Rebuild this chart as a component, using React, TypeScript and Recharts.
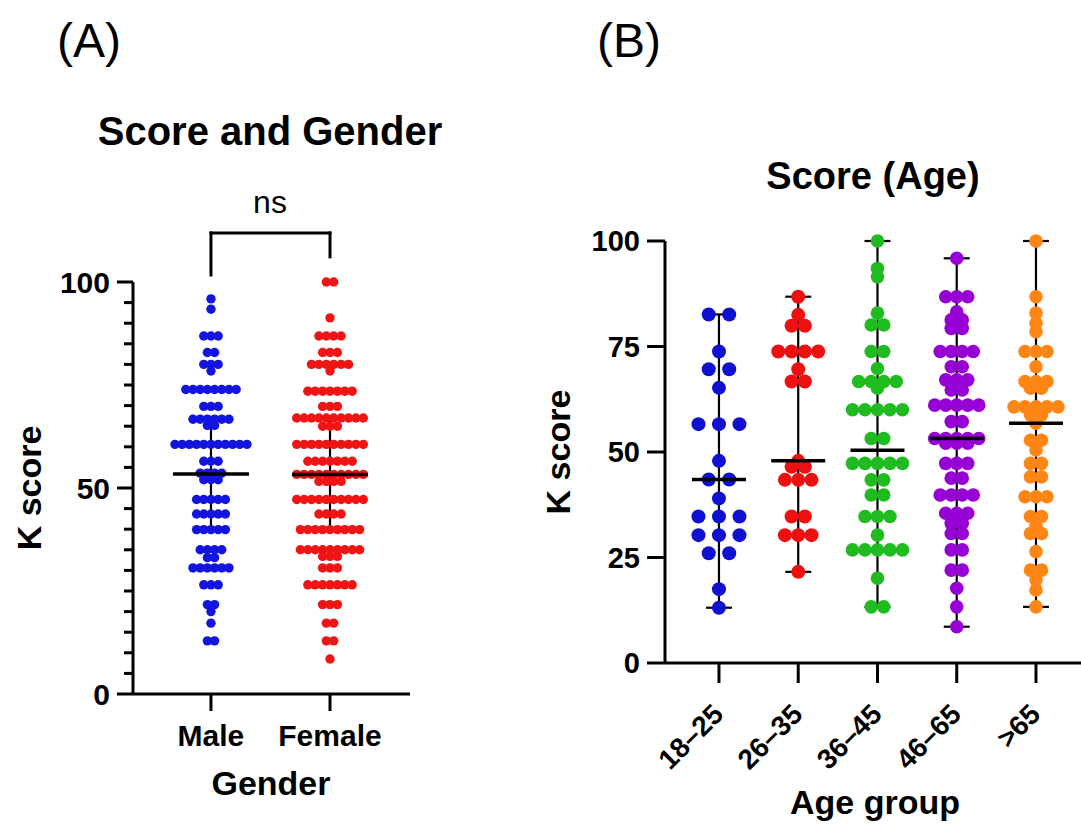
import React from 'react';
import { ScatterChart, Scatter, XAxis, YAxis, ErrorBar, ReferenceLine } from 'recharts';

// Panel A: [K score, number of people at that score]
const maleScores: [number, number][] = [
  [95.9, 1], [93.4, 1], [86.9, 3], [82.9, 2], [80.0, 3], [78.4, 1], [73.9, 8], [69.8, 3],
  [66.7, 6], [65.2, 2], [60.6, 11], [56.5, 3], [53.6, 4], [52.0, 3], [47.2, 5], [43.7, 5],
  [39.9, 5], [35.0, 4], [33.1, 2], [30.6, 6], [26.5, 3], [21.7, 2], [20.0, 1], [17.2, 1], [12.9, 2],
];
const femaleScores: [number, number][] = [
  [100, 2], [91.3, 1], [86.9, 4], [82.9, 3], [80.0, 6], [78.4, 1], [73.5, 7], [69.8, 3],
  [67.0, 10], [65.0, 3], [60.6, 10], [56.5, 7], [53.3, 10], [51.6, 4], [47.2, 10], [43.7, 4],
  [39.9, 9], [35.0, 9], [33.4, 3], [30.6, 3], [26.5, 7], [21.7, 3], [17.2, 2], [12.9, 2], [8.5, 1],
];
const genderLabels = ['Male', 'Female'];
const genderMeans = [53.4, 53.3];
const genderSds = [13.3, 13.7];

// Panel B: [K score, count] per age group
const age18to25: [number, number][] = [
  [82.6, 2], [73.8, 1], [69.6, 2], [65.2, 1], [56.6, 3], [47.9, 1], [43.5, 2], [39.0, 1],
  [34.7, 3], [30.3, 3], [26.0, 2], [17.5, 1], [13.1, 1],
];
const age26to35: [number, number][] = [
  [86.8, 1], [82.5, 1], [79.9, 2], [73.8, 4], [69.6, 1], [66.7, 2], [47.9, 1], [46.5, 2],
  [43.4, 3], [34.7, 2], [30.3, 3], [21.6, 1],
];
const age36to45: [number, number][] = [
  [100, 1], [93.5, 1], [91.5, 1], [82.9, 1], [80.1, 2], [73.8, 2], [69.8, 1], [66.7, 4],
  [65.1, 1], [60.0, 5], [53.2, 2], [47.3, 5], [43.4, 2], [39.8, 2], [34.7, 3], [30.3, 1],
  [26.8, 5], [20.1, 1], [13.3, 2],
];
const age46to65: [number, number][] = [
  [95.9, 1], [86.8, 3], [83.2, 1], [81.3, 2], [79.3, 2], [73.8, 4], [70.2, 2], [67.1, 3],
  [64.7, 2], [61.1, 5], [57.2, 2], [53.2, 5], [52.1, 3], [47.3, 3], [43.8, 2], [39.8, 4],
  [35.5, 3], [33.1, 2], [30.7, 2], [26.8, 2], [22.0, 2], [17.7, 1], [13.3, 1], [8.6, 1],
];
const ageOver65: [number, number][] = [
  [100, 1], [86.8, 1], [82.9, 1], [80.5, 1], [78.5, 1], [73.8, 3], [70.2, 1], [66.7, 3],
  [65.1, 2], [60.7, 5], [58.8, 2], [56.8, 1], [52.8, 2], [50.5, 1], [47.3, 2], [44.1, 2],
  [39.4, 3], [34.7, 2], [32.7, 1], [30.7, 2], [26.4, 1], [22.0, 2], [19.7, 1], [17.3, 1], [13.3, 1],
];
const ageLabels = ['18–25', '26–35', '36–45', '46–65', '>65'];
const ageMedians = [43.5, 47.9, 50.4, 53.2, 56.8];
const ageMins = [13.1, 21.6, 13.3, 8.6, 13.3];
const ageMaxs = [82.6, 86.8, 100, 95.9, 100];

const FONT = '"Liberation Sans", Arial, sans-serif';

// spread equal scores sideways, centred on the group
function swarm(rows: [number, number][], group: number, step: number) {
  const pts: { x: number; y: number; dx: number }[] = [];
  rows.forEach(([value, count]) => {
    for (let i = 0; i < count; i++) {
      pts.push({ x: group, y: value, dx: (i - (count - 1) / 2) * step });
    }
  });
  return pts;
}

const dot = (color: string, r: number) => (p: any) =>
  <circle cx={p.cx + p.payload.dx} cy={p.cy} r={r} fill={color} />;

const hLine = (half: number, w: number) => (p: any) =>
  <line x1={p.cx - half} x2={p.cx + half} y1={p.cy} y2={p.cy} stroke="#000" strokeWidth={w} />;

const GenderYTick = ({ x, y, payload }: any) => {
  const major = payload.value % 50 === 0;
  return (
    <g>
      <line x1={x - (major ? 16 : 9)} x2={x} y1={y} y2={y} stroke="#000" strokeWidth={3} />
      {major && (
        <text x={x - 23} y={y} dy="0.36em" textAnchor="end" fontSize={30} fontWeight={700} fill="#000" fontFamily={FONT}>
          {payload.value}
        </text>
      )}
    </g>
  );
};

const GenderXTick = ({ x, y, payload }: any) => (
  <text x={x} y={y + 35} textAnchor="middle" fontSize={30} fontWeight={700} fill="#000" fontFamily={FONT}>
    {genderLabels[payload.value - 1]}
  </text>
);

const AgeYTick = ({ x, y, payload }: any) => (
  <g>
    <line x1={x - 18} x2={x} y1={y} y2={y} stroke="#000" strokeWidth={3} />
    <text x={x - 25} y={y} dy="0.36em" textAnchor="end" fontSize={29} fontWeight={700} fill="#000" fontFamily={FONT}>
      {payload.value}
    </text>
  </g>
);

const AgeXTick = ({ x, y, payload }: any) => (
  <text
    x={x + 6}
    y={y + 33}
    transform={`rotate(-45, ${x + 6}, ${y + 33})`}
    textAnchor="end"
    fontSize={28}
    fontWeight={700}
    fill="#000"
    fontFamily={FONT}
  >
    {ageLabels[payload.value - 1]}
  </text>
);

const axisStyle = { stroke: '#000', strokeWidth: 3 };

export default function App() {
  const male = swarm(maleScores, 1, 7.2);
  const female = swarm(femaleScores, 2, 7.4);
  const genderStats = genderMeans.map((m, i) => ({ x: i + 1, y: m, err: genderSds[i] }));

  const ageGroups = [
    { rows: age18to25, color: '#1010d0', step: 20.5, r: 7 },
    { rows: age26to35, color: '#ee1010', step: 13.3, r: 7 },
    { rows: age36to45, color: '#20bb20', step: 12.5, r: 6.8 },
    { rows: age46to65, color: '#9600d4', step: 11, r: 6.8 },
    { rows: ageOver65, color: '#ff8614', step: 11, r: 6.8 },
  ];
  const ageStats = ageMedians.map((m, i) => ({
    x: i + 1,
    y: m,
    err: [m - ageMins[i], ageMaxs[i] - m],
  }));

  return (
    <div style={{ position: 'absolute', left: 0, top: 0, width: 1081, height: 826, background: '#fff', fontFamily: FONT, overflow: 'hidden' }}>
      <div style={{ position: 'absolute', left: 0, top: 0 }}>
        <ScatterChart width={460} height={826} margin={{ top: 282, right: 50, bottom: 92, left: 73 }}>
          <XAxis
            type="number"
            dataKey="x"
            domain={[0.345, 2.672]}
            ticks={[1, 2]}
            height={40}
            tickSize={17}
            tickMargin={0}
            axisLine={axisStyle}
            tickLine={axisStyle}
            tick={<GenderXTick />}
          />
          <YAxis
            type="number"
            dataKey="y"
            domain={[0, 100]}
            ticks={Array.from({ length: 21 }, (_, i) => i * 5)}
            interval={0}
            width={60}
            tickSize={0}
            tickMargin={0}
            axisLine={axisStyle}
            tickLine={false}
            tick={<GenderYTick />}
          />
          <Scatter data={male} fill="#1414e0" shape={dot('#1414e0', 4.7)} isAnimationActive={false} />
          <Scatter data={female} fill="#f01414" shape={dot('#f01414', 4.7)} isAnimationActive={false} />
          <Scatter data={genderStats} shape={hLine(38, 3.5)} isAnimationActive={false}>
            <ErrorBar dataKey="err" direction="y" width={18} stroke="#000" strokeWidth={2.2} />
          </Scatter>
          <ReferenceLine segment={[{ x: 1, y: 101.7 }, { x: 1, y: 111.9 }]} stroke="#000" strokeWidth={3} strokeLinecap="square" ifOverflow="visible" />
          <ReferenceLine segment={[{ x: 1, y: 111.9 }, { x: 2, y: 111.9 }]} stroke="#000" strokeWidth={3} strokeLinecap="square" ifOverflow="visible" />
          <ReferenceLine segment={[{ x: 2, y: 111.9 }, { x: 2, y: 106.1 }]} stroke="#000" strokeWidth={3} strokeLinecap="square" ifOverflow="visible" />
        </ScatterChart>
      </div>

      <div style={{ position: 'absolute', left: 530, top: 0 }}>
        <ScatterChart width={551} height={826} margin={{ top: 241, right: 0, bottom: 123, left: 75 }}>
          <XAxis
            type="number"
            dataKey="x"
            domain={[0.319, 5.568]}
            ticks={[1, 2, 3, 4, 5]}
            interval={0}
            height={40}
            tickSize={20}
            tickMargin={0}
            axisLine={axisStyle}
            tickLine={axisStyle}
            tick={<AgeXTick />}
          />
          <YAxis
            type="number"
            dataKey="y"
            domain={[0, 100]}
            ticks={[0, 25, 50, 75, 100]}
            interval={0}
            width={60}
            tickSize={0}
            tickMargin={0}
            axisLine={axisStyle}
            tickLine={false}
            tick={<AgeYTick />}
          />
          {ageGroups.map((g, i) => (
            <Scatter
              key={ageLabels[i]}
              data={swarm(g.rows, i + 1, g.step)}
              fill={g.color}
              shape={dot(g.color, g.r)}
              isAnimationActive={false}
            />
          ))}
          <Scatter data={ageStats} shape={hLine(27, 3.5)} isAnimationActive={false}>
            <ErrorBar dataKey="err" direction="y" width={13} stroke="#000" strokeWidth={2.2} />
          </Scatter>
        </ScatterChart>
      </div>

      <svg width={1081} height={826} style={{ position: 'absolute', left: 0, top: 0, pointerEvents: 'none' }} fontFamily={FONT}>
        <text x={57} y={57} fontSize={48} fill="#000">(A)</text>
        <text x={597} y={57} fontSize={48} fill="#000">(B)</text>
        <text x={270} y={145} fontSize={40} fontWeight={700} textAnchor="middle" fill="#000">Score and Gender</text>
        <text x={873} y={189} fontSize={38} fontWeight={700} textAnchor="middle" fill="#000">Score (Age)</text>
        <text x={270} y={213} fontSize={32} textAnchor="middle" fill="#000">ns</text>
        <text x={41} y={488} fontSize={34} fontWeight={700} textAnchor="middle" transform="rotate(-90, 41, 488)" fill="#000">K score</text>
        <text x={570} y={452} fontSize={34} fontWeight={700} textAnchor="middle" transform="rotate(-90, 570, 452)" fill="#000">K score</text>
        <text x={271} y={795} fontSize={34} fontWeight={700} textAnchor="middle" fill="#000">Gender</text>
        <text x={875} y={814} fontSize={34} fontWeight={700} textAnchor="middle" fill="#000">Age group</text>
      </svg>
    </div>
  );
}
